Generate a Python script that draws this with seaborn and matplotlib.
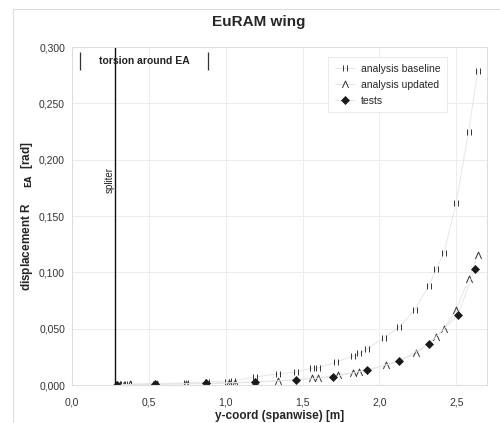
import numpy as np
import pandas as pd
import seaborn as sns
from matplotlib import pyplot as plt
from matplotlib.path import Path
from matplotlib.patches import Rectangle
from matplotlib.ticker import MultipleLocator, FuncFormatter

# analysis baseline
base_x = [0.30, 0.33, 0.37, 0.54, 0.74, 0.88, 1.01, 1.05, 1.19, 1.34, 1.46, 1.56, 1.60,
          1.72, 1.83, 1.87, 1.92, 2.03, 2.13, 2.23, 2.32, 2.37, 2.42, 2.50, 2.58, 2.64]
base_y = [0.0005, 0.0006, 0.0007, 0.0012, 0.0020, 0.0027, 0.0030, 0.0035, 0.0071, 0.0098,
          0.0115, 0.0150, 0.0152, 0.0204, 0.0258, 0.0280, 0.0320, 0.0420, 0.0515, 0.0666,
          0.0879, 0.1030, 0.1170, 0.1620, 0.2250, 0.2790]

# analysis updated
upd_x = [0.31, 0.34, 0.38, 0.55, 0.74, 1.02, 1.06, 1.19, 1.34, 1.56, 1.60, 1.73, 1.83,
         1.87, 2.04, 2.24, 2.37, 2.42, 2.50, 2.58, 2.64]
upd_y = [0.0003, 0.0004, 0.0005, 0.0008, 0.0011, 0.0016, 0.0018, 0.0025, 0.0036, 0.0060,
         0.0062, 0.0090, 0.0110, 0.0115, 0.0175, 0.0280, 0.0430, 0.0497, 0.0666, 0.0940,
         0.1150]

# tests
test_x = [0.29, 0.54, 0.87, 1.19, 1.46, 1.70, 1.92, 2.13, 2.32, 2.51, 2.62]
test_y = [0.0004, 0.0007, 0.0015, 0.0027, 0.0045, 0.0071, 0.0133, 0.0210, 0.0364, 0.0620,
          0.1030]

spliter_x = 0.28

LINE = "#e6e6e6"
GRID = "#ededed"
MARK = "#333333"

bars = Path([(-0.5, -1), (-0.5, 1), (0.5, -1), (0.5, 1)],
            [Path.MOVETO, Path.LINETO, Path.MOVETO, Path.LINETO])
caret = Path([(-0.9, -1), (0, 1), (0.9, -1)],
             [Path.MOVETO, Path.LINETO, Path.LINETO])

sns.set_style("white")
plt.rcParams["font.family"] = ["Liberation Sans", "DejaVu Sans"]

fig = plt.figure(figsize=(5.0, 4.23), dpi=100)
ax = fig.add_axes([0.144, 0.0898, 0.830, 0.799])

fig.patches.append(Rectangle((0.025, -0.1), 1.2, 1.079, transform=fig.transFigure,
                             fill=False, edgecolor="#dcdcdc", linewidth=0.8))

df_base = pd.DataFrame({"x": base_x, "y": base_y})
df_upd = pd.DataFrame({"x": upd_x, "y": upd_y})
df_test = pd.DataFrame({"x": test_x, "y": test_y})

sns.lineplot(data=df_base, x="x", y="y", ax=ax, color=LINE, linewidth=0.7,
             estimator=None, sort=False, marker=bars, markersize=5,
             markerfacecolor="none", markeredgecolor=MARK, markeredgewidth=0.7,
             label="analysis baseline")
sns.lineplot(data=df_upd, x="x", y="y", ax=ax, color=LINE, linewidth=0.7,
             estimator=None, sort=False, marker=caret, markersize=5,
             markerfacecolor="none", markeredgecolor=MARK, markeredgewidth=0.7,
             label="analysis updated")
sns.lineplot(data=df_test, x="x", y="y", ax=ax, color=LINE, linewidth=0.7,
             estimator=None, sort=False, marker="D", markersize=4.5,
             markerfacecolor="#1a1a1a", markeredgecolor="#1a1a1a", markeredgewidth=0.5,
             label="tests")

ax.axvline(spliter_x, color="#111111", linewidth=1.0)
ax.text(spliter_x - 0.035, 0.182, "spliter", rotation=90, ha="center", va="center",
        fontsize=7, color="#222222")

ax.text(0.468, 0.2875, "torsion around EA", ha="center", va="center", fontsize=7.5,
        fontweight="bold", color="#222222")
ax.vlines([0.052, 0.883], 0.2795, 0.2955, color="#333333", linewidth=0.9)

ax.set_xlim(0, 2.7)
ax.set_ylim(0, 0.3)
ax.xaxis.set_major_locator(MultipleLocator(0.5))
ax.yaxis.set_major_locator(MultipleLocator(0.05))
ax.xaxis.set_major_formatter(FuncFormatter(lambda v, p: f"{v:.1f}".replace(".", ",")))
ax.yaxis.set_major_formatter(FuncFormatter(lambda v, p: f"{v:.3f}".replace(".", ",")))
ax.grid(True, color=GRID, linewidth=0.7)
ax.tick_params(axis="both", labelsize=7.5, colors="#333333", length=0)
ax.tick_params(axis="x", pad=9)
ax.tick_params(axis="y", pad=5)
for s in ax.spines.values():
    s.set_color("#dddddd")
    s.set_linewidth(0.8)

ax.set_xlabel("y-coord (spanwise) [m]", fontsize=8.5, fontweight="bold", labelpad=2)
ax.set_ylabel(r"displacement R     $_{\mathbf{EA}}$  [rad]", fontsize=8.5,
              fontweight="bold", labelpad=3)
fig.suptitle("EuRAM wing", x=0.517, y=0.965, fontsize=11, fontweight="bold")

leg = ax.legend(loc="upper right", bbox_to_anchor=(0.915, 0.985), fontsize=7.5,
                frameon=True, fancybox=False, edgecolor="#e6e6e6", framealpha=1,
                handlelength=2.0, borderpad=0.6, labelspacing=0.6, handletextpad=0.5)
leg.get_frame().set_linewidth(0.6)

fig.savefig("out.png", dpi=100)
